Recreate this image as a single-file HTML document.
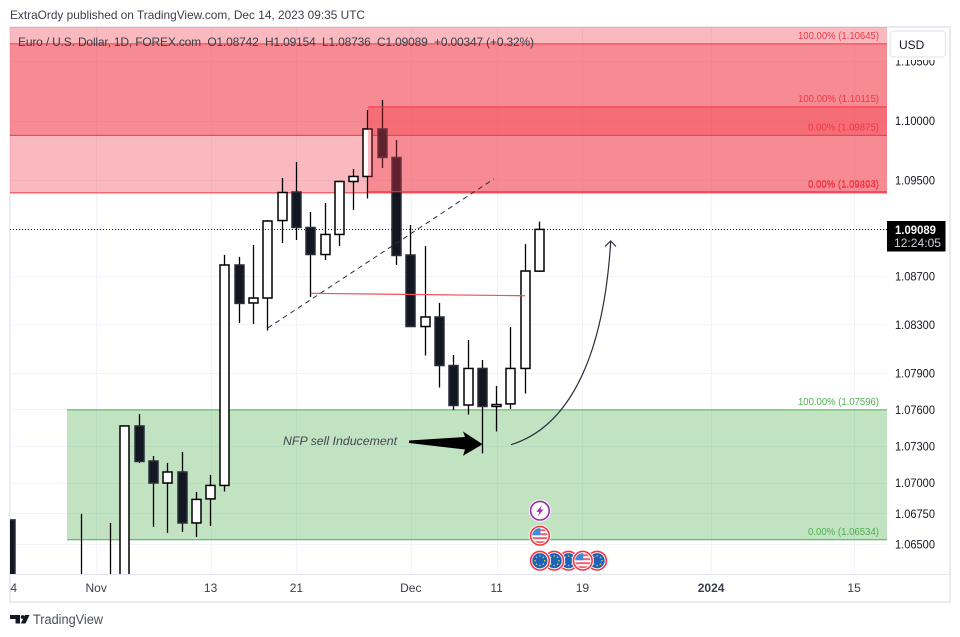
<!DOCTYPE html>
<html lang="en">
<head>
<meta charset="utf-8">
<title>EUR/USD daily chart</title>
<style>
html,body{margin:0;padding:0;background:#fff;width:960px;height:637px;overflow:hidden}
svg{display:block;font-family:"Liberation Sans",sans-serif}
</style>
</head>
<body>
<svg id="chart" xmlns="http://www.w3.org/2000/svg" width="960" height="637" viewBox="0 0 960 637">
  <defs>
    <clipPath id="pane"><rect x="10" y="27" width="877" height="547"/></clipPath>
    <clipPath id="tick-clip"><rect x="10" y="575" width="940" height="26"/></clipPath>
    <clipPath id="c-eu"><circle cx="0" cy="0" r="7.6"/></clipPath>
  </defs>
  <rect width="960" height="637" fill="#ffffff"/>
  <text x="10" y="19" font-size="12" fill="#3c4049" textLength="355" lengthAdjust="spacingAndGlyphs">ExtraOrdy published on TradingView.com, Dec 14, 2023 09:35 UTC</text>
  <rect x="10" y="27" width="940" height="575" fill="none" stroke="#e9ebf1" stroke-width="2"/>
  <g id="grid"></g>
  <g id="zones-under" clip-path="url(#pane)"></g>
  <g id="candles" clip-path="url(#pane)"></g>
  <g id="zones-over" clip-path="url(#pane)"></g>
  <g id="drawings" clip-path="url(#pane)"></g>
  <path d="M511,444.7 C565,428 603,365 610.7,241.7" fill="none" stroke="#2a2e39" stroke-width="1.2"/>
  <path d="M605,246.5 L610.7,241 L616,246.5" fill="none" stroke="#2a2e39" stroke-width="1.2"/>
  <polygon points="409,440.5 465,437 463,431.5 482.7,444.3 463,455.7 465,449.5 409,443" fill="#000000"/>
  <text x="283" y="445" font-size="12" font-style="italic" fill="#434651" textLength="114" lengthAdjust="spacingAndGlyphs">NFP sell Inducement</text>
  <g id="axis-y"></g>
  <g id="axis-x"></g>
  <line x1="10" y1="574.5" x2="949" y2="574.5" stroke="#e0e3eb"/>
  <text x="18" y="46" font-size="12" fill="#3a3e48" textLength="516" lengthAdjust="spacing" style="white-space:pre">Euro / U.S. Dollar, 1D, FOREX.com  O1.08742  H1.09154  L1.08736  C1.09089  +0.00347 (+0.32%)</text>
  <g>
    <rect x="887.5" y="28" width="61.5" height="32" fill="#ffffff"/>
    <rect x="890" y="31" width="55.5" height="26" rx="4" fill="#ffffff" stroke="#e4e7ee" stroke-width="1.2"/>
    <text x="899" y="49" font-size="12" fill="#131722">USD</text>
  </g>
  <g>
    <rect x="887" y="221" width="58.5" height="30.5" fill="#000000"/>
    <text x="895" y="234" font-size="12" font-weight="bold" fill="#ffffff" textLength="41" lengthAdjust="spacingAndGlyphs">1.09089</text>
    <text x="894" y="247" font-size="12" fill="#d1d4dc" textLength="47" lengthAdjust="spacingAndGlyphs">12:24:05</text>
  </g>
  <g id="events"></g>
  <g>
    <path d="M10,615 H20 V623.5 H15.5 V619 H10 Z M25,615 H29.5 L25.5,623.5 H20.8 Z" fill="#131722"/>
    <circle cx="22.6" cy="617" r="1.9" fill="#131722"/>
    <text x="33" y="624" font-size="13.5" fill="#4a4f5c" textLength="70" lengthAdjust="spacingAndGlyphs">TradingView</text>
  </g>
</svg>
<script>
// ---- Chart data ----
var dates = ["Oct 24","Oct 25","Oct 26","Oct 27","Oct 30","Oct 31","Nov 1","Nov 2","Nov 3","Nov 6","Nov 7","Nov 8","Nov 9","Nov 10","Nov 13","Nov 14","Nov 15","Nov 16","Nov 17","Nov 20","Nov 21","Nov 22","Nov 23","Nov 24","Nov 27","Nov 28","Nov 29","Nov 30","Dec 1","Dec 4","Dec 5","Dec 6","Dec 7","Dec 8","Dec 11","Dec 12","Dec 13","Dec 14"];
var opens  = [1.06696,1.0600,1.0570,1.0560,1.0565,1.0615,1.0570,1.0600,1.0620,1.07464,1.07177,1.06997,1.07087,1.06671,1.06867,1.06977,1.08793,1.08478,1.08519,1.09163,1.09401,1.09105,1.0888,1.09047,1.09489,1.09531,1.09929,1.0969,1.08876,1.08283,1.08362,1.07961,1.07636,1.07937,1.07624,1.07645,1.07937,1.08742];
var highs  = [1.06700,1.0615,1.0590,1.0580,1.0600,1.06745,1.0600,1.06671,1.07464,1.07562,1.07218,1.07161,1.07251,1.06924,1.07063,1.08876,1.0886,1.08959,1.09167,1.09518,1.09652,1.09234,1.09309,1.09493,1.09593,1.10088,1.10172,1.09836,1.09126,1.08951,1.08478,1.08048,1.08172,1.08007,1.07793,1.08279,1.08967,1.09154];
var lows   = [1.0580,1.0560,1.0550,1.0540,1.0550,1.0560,1.0550,1.0590,1.0610,1.0716,1.06639,1.0659,1.06598,1.06557,1.06647,1.06928,1.08312,1.08304,1.0825,1.08976,1.09001,1.08528,1.08835,1.08951,1.09251,1.09347,1.09602,1.08793,1.0828,1.08044,1.0778,1.07595,1.07558,1.07239,1.07419,1.07603,1.07731,1.08736];
var closes = [1.0590,1.0570,1.0565,1.0565,1.0615,1.0570,1.0600,1.0620,1.07464,1.07173,1.06997,1.07087,1.06671,1.06863,1.06977,1.08793,1.08474,1.08519,1.09159,1.09397,1.09105,1.0888,1.09047,1.09489,1.09531,1.09929,1.0969,1.08872,1.08283,1.08362,1.07961,1.07632,1.07937,1.07624,1.0764,1.07937,1.08743,1.09089];

var priceTicks = [1.105,1.10,1.095,1.087,1.083,1.079,1.076,1.073,1.07,1.0675,1.065];
var timeTicks = ["24","Nov","13","21","Dec","11","19","2024","15"];
var timeTickIndex = [0,6,14,20,28,34,40,49,59];

var lastPrice = 1.09089;

var zoneNames = ["zone-upper-supply","zone-wide-supply","zone-recent-supply","zone-demand"];
var zoneTops = [1.10645,1.1120,1.10115,1.07596];
var zoneBottoms = [1.09875,1.09394,1.09403,1.06534];
var zoneStartIndex = [-1,-1,25,3.96];
var zoneTopLabels = ["100.00% (1.10645)","","100.00% (1.10115)","100.00% (1.07596)"];
var zoneBottomLabels = ["0.00% (1.09875)","0.00% (1.09394)","0.00% (1.09403)","0.00% (1.06534)"];

var trendPrices = [1.08271,1.09510];
var trendIndex = [18,33.8];
var levelPrices = [1.08558,1.08538];
var levelIndex = [21,36];

var eventTypes = ["bolt","us","eu","eu","eu","us","eu"];
var eventIndex = [37,37,37,38,39,40,41];
var eventRows = [0,1,2,2,2,2,2];
var eventDrawOrder = [0,1,6,4,5,3,2];

// ---- Axis functions ----
function priceY(p){ return 120.5 + 13096 * Math.log(1.1 / p); }
function paneY(p){ return Math.max(26, Math.min(575, priceY(p))); }
function barX(i){ return Math.floor(10.4 + 14.3 * i) + 0.5; }
function rawX(i){ return 10.4 + 14.3 * i; }

var NS = "http://www.w3.org/2000/svg";
function mk(tag, parent, attrs){
  var el = document.createElementNS(NS, tag);
  for (var k in attrs) el.setAttribute(k, attrs[k]);
  parent.appendChild(el);
  return el;
}

// ---- Grid and price axis ----
var gridG = document.getElementById("grid");
var axisY = document.getElementById("axis-y");
var axisX = document.getElementById("axis-x");
priceTicks.forEach(function(p){
  var y = Math.round(priceY(p)) + 0.5;
  var g = mk("line", gridG, {x1:10, x2:887, y1:y, y2:y, stroke:"#f0f3fa"});
  
  
  var t = mk("text", axisY, {x:895, y:priceY(p)+4.5, "font-size":12, fill:"#131722", textLength:40, lengthAdjust:"spacingAndGlyphs"});
  
  
  t.textContent = p.toFixed(5);
});
timeTicks.forEach(function(label, n){
  var x = rawX(timeTickIndex[n]);
  var g = mk("line", gridG, {x1:Math.round(x)+0.5, x2:Math.round(x)+0.5, y1:27, y2:574, stroke:"#f0f3fa"});
  
  
  var t = mk("text", axisX, {x:x, y:592, "font-size":12, fill:"#3a3e48", "text-anchor":"middle", "clip-path":"url(#tick-clip)"});
  
  
  if (label === "2024") t.setAttribute("font-weight", "bold");
  t.textContent = label;
});

// ---- Zones ----
function drawZone(n, parent, color){
  var yTop = priceY(zoneTops[n]), yBot = priceY(zoneBottoms[n]);
  var x0 = zoneStartIndex[n] < 0 ? 10 : rawX(zoneStartIndex[n]);
  var yA = paneY(zoneTops[n]), yB = paneY(zoneBottoms[n]);
  var r = mk("rect", parent, {x:x0, y:yA, width:887-x0, height:yB-yA, fill:color, "fill-opacity":0.35});
  
  
  [yTop, yBot].forEach(function(y){
    if (y < 27 || y > 574) return;
    var l = mk("line", parent, {x1:x0, x2:887, y1:y, y2:y, stroke:color, "stroke-width":1});
    
    
  });
}
function drawZoneLabels(n, parent, labelColor){
  var yTop = priceY(zoneTops[n]), yBot = priceY(zoneBottoms[n]);
  if (zoneTopLabels[n]) {
    var a = mk("text", parent, {x:879, y:yTop-5, "font-size":10, fill:labelColor, "text-anchor":"end", textLength:81, lengthAdjust:"spacingAndGlyphs"});
    
    
    a.textContent = zoneTopLabels[n];
  }
  var b = mk("text", parent, {x:879, y:yBot-5, "font-size":10, fill:labelColor, "text-anchor":"end", textLength:71, lengthAdjust:"spacingAndGlyphs"});
  
  
  b.textContent = zoneBottomLabels[n];
}
var under = document.getElementById("zones-under");
var over = document.getElementById("zones-over");
drawZone(1, under, "#f23645");
drawZone(0, under, "#f23645");
drawZone(3, under, "#4caf50");

// ---- Candles ----
var candleG = document.getElementById("candles");
dates.forEach(function(d, i){
  var x = barX(i);
  var up = closes[i] >= opens[i];
  var w = mk("line", candleG, {x1:x, x2:x, y1:paneY(highs[i]), y2:paneY(lows[i]), stroke:"#000000", "stroke-width":1.3});
  
  
  var yT = paneY(Math.max(opens[i], closes[i]));
  var yB = paneY(Math.min(opens[i], closes[i]));
  var b = mk("rect", candleG, {x:x-4.5, y:yT, width:9, height:Math.max(yB-yT,1), fill:up?"#ffffff":"#131722", stroke:up?"#000000":"#2a2e39", "stroke-width":1.5});
  
  
});

drawZone(2, over, "#f23645");
drawZoneLabels(0, over, "#f23645");
drawZoneLabels(1, over, "#f23645");
drawZoneLabels(2, over, "#f23645");
drawZoneLabels(3, over, "#4caf50");

// ---- Drawings ----
var drawG = document.getElementById("drawings");
var lastLine = mk("line", drawG, {x1:10, x2:887, y1:Math.round(priceY(lastPrice))+0.5, y2:Math.round(priceY(lastPrice))+0.5, stroke:"#131722", "stroke-width":1, "stroke-dasharray":"1 2"});


var trend = mk("line", drawG, {x1:rawX(trendIndex[0]), y1:priceY(trendPrices[0]), x2:rawX(trendIndex[1]), y2:priceY(trendPrices[1]), stroke:"#2a2e39", "stroke-width":1, "stroke-dasharray":"5 4"});


var level = mk("line", drawG, {x1:rawX(levelIndex[0]), y1:priceY(levelPrices[0]), x2:rawX(levelIndex[1]), y2:priceY(levelPrices[1]), stroke:"#f2505c", "stroke-width":1.2});



// ---- Event markers ----
var eventsG = document.getElementById("events");
var rowY = [510.7,535.7,560.7];
eventDrawOrder.forEach(function(n){
  var type = eventTypes[n];
  var cx = rawX(eventIndex[n]) + 0.4, cy = rowY[eventRows[n]];
  var g = mk("g", eventsG, {transform:"translate("+cx+","+cy+")"});
  
  
  mk("circle", g, {r:11, fill:"#ffffff"});
  mk("circle", g, {r:9.3, fill:"#ffffff", stroke:type==="bolt"?"#9c27b0":"#f23645", "stroke-width":1.6});
  if (type === "bolt") {
    mk("path", g, {d:"M2.2,-5.5 L-3.6,1 L-0.4,1 L-2.2,5.5 L3.6,-1.2 L0.4,-1.2 Z", fill:"#9c27b0"});
  } else if (type === "eu") {
    mk("circle", g, {r:7.6, fill:"#1c62b8"});
    for (var a = 0; a < 8; a++) {
      var ang = a * Math.PI / 4;
      mk("circle", g, {cx:(4.8*Math.cos(ang)).toFixed(2), cy:(4.8*Math.sin(ang)).toFixed(2), r:0.8, fill:"#e8c53a"});
    }
  } else {
    var f = mk("g", g, {"clip-path":"url(#c-eu)"});
    mk("rect", f, {x:-8, y:-8, width:16, height:16, fill:"#ffffff"});
    [-6.5,-2.5,1.5,5.5].forEach(function(y){
      mk("rect", f, {x:-8, y:y, width:16, height:2, fill:"#f0616d"});
    });
    mk("rect", f, {x:-8, y:-8, width:8.5, height:7.5, fill:"#3d8be0"});
  }
});
</script>
</body>
</html>
